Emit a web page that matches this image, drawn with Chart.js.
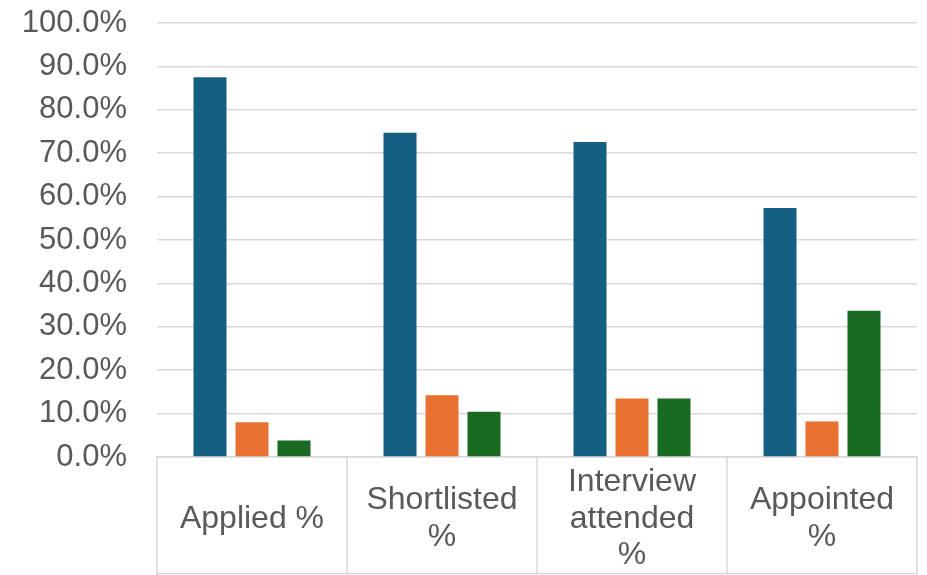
<!DOCTYPE html>
<html>
<head>
<meta charset="utf-8">
<script src="https://cdn.jsdelivr.net/npm/chart.js@4/dist/chart.umd.min.js"></script>
<style>
  html, body { margin: 0; padding: 0; background: #fff; }
  #wrap { width: 927px; height: 575px; }
</style>
</head>
<body>
<div id="wrap"><canvas id="chart"></canvas></div>
<script>
// Data (percent)
const categories = [['Applied %'], ['Shortlisted', '%'], ['Interview', 'attended', '%'], ['Appointed', '%']];
const seriesBlue = [87.5, 74.7, 72.6, 57.4];
const seriesOrange = [8.0, 14.2, 13.5, 8.2];
const seriesGreen = [3.8, 10.4, 13.5, 33.7];
const yTicksMax = 100;
const yTickStep = 10;

const gridGrey = '#d9d9d9';
const textGrey = '#595959';

// draws the category label box (dividers + bottom edge) like Excel's table look
const labelBox = {
  id: 'labelBox',
  afterDraw(chart) {
    const x = chart.scales.x;
    const ctx = chart.ctx;
    const half = (x.getPixelForValue(1) - x.getPixelForValue(0)) / 2;
    ctx.save();
    ctx.strokeStyle = gridGrey;
    ctx.lineWidth = 1.5;
    ctx.beginPath();
    for (let i = 0; i <= categories.length; i++) {
      const px = x.getPixelForValue(0) - half + i * half * 2;
      ctx.moveTo(px, x.top);
      ctx.lineTo(px, x.bottom);
    }
    ctx.moveTo(x.left, x.bottom - 1.5);
    ctx.lineTo(x.right, x.bottom - 1.5);
    ctx.stroke();
    ctx.restore();
  }
};

new Chart(document.getElementById('chart'), {
  type: 'bar',
  data: {
    labels: categories,
    datasets: [
      { data: seriesBlue, backgroundColor: '#156082' },
      { data: seriesOrange, backgroundColor: '#E97132' },
      { data: seriesGreen, backgroundColor: '#196B24' }
    ]
  },
  options: {
    responsive: true,
    maintainAspectRatio: false,
    animation: false,
    layout: { padding: { left: 20, right: 10, top: 0, bottom: 0 } },
    datasets: {
      bar: { categoryPercentage: 0.663, barPercentage: 0.786 }
    },
    plugins: {
      legend: { display: false },
      tooltip: { enabled: false }
    },
    scales: {
      x: {
        afterFit(scale) { scale.height = 118; },
        grid: { display: false },
        border: { color: gridGrey, width: 1.5 },
        ticks: {
          color: textGrey,
          font: { family: 'Liberation Sans, Arial, sans-serif', size: 32, lineHeight: 1.15 },
          maxRotation: 0,
          autoSkip: false,
          crossAlign: 'center',
          padding: 17
        }
      },
      y: {
        min: 0,
        max: yTicksMax,
        afterFit(scale) {
          scale.width = 137;
          scale.paddingTop = 23;
          scale.paddingBottom = 19;
        },
        grid: { color: gridGrey, lineWidth: 1.5, drawTicks: false },
        border: { display: false },
        ticks: {
          stepSize: yTickStep,
          color: textGrey,
          padding: 30,
          font: { family: 'Liberation Sans, Arial, sans-serif', size: 31 },
          callback: v => v.toFixed(1) + '%'
        }
      }
    }
  },
  plugins: [labelBox]
});
</script>
</body>
</html>
